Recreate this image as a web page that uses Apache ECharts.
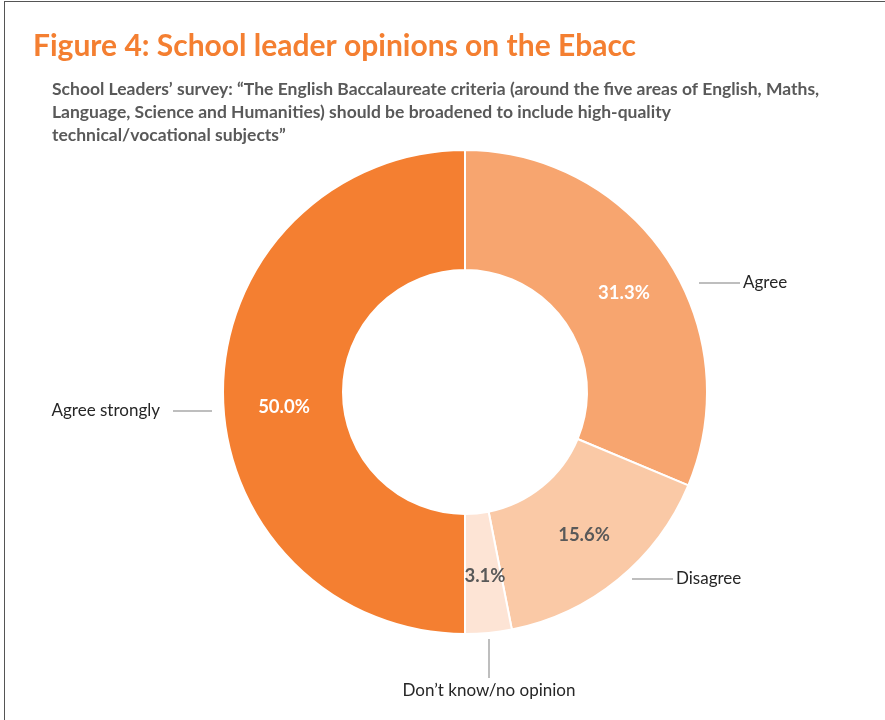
<!DOCTYPE html>
<html><head><meta charset="utf-8">
<script src="https://cdn.jsdelivr.net/npm/echarts@6/dist/echarts.min.js"></script>
<style>
html,body{margin:0;padding:0;background:#fff;}
#wrap{position:relative;width:885px;height:720px;}
#c{width:885px;height:720px;}
#frame{position:absolute;left:4px;top:1px;right:0;bottom:0;border-left:1.5px solid #555;border-top:1.5px solid #555;pointer-events:none;}
</style></head>
<body><div id="wrap"><div id="c"></div><div id="frame"></div></div>
<script>
const titleText = 'Figure 4: School leader opinions on the Ebacc';
const subtitleText = 'School Leaders\u2019 survey: \u201CThe English Baccalaureate criteria (around the five areas of English, Maths,\nLanguage, Science and Humanities) should be broadened to include high-quality\ntechnical/vocational subjects\u201D';
const categories = ['Agree', 'Disagree', 'Don\u2019t know/no opinion', 'Agree strongly'];
const values = [31.3, 15.6, 3.1, 50.0];
const colors = ['#F7A56F', '#FAC9A6', '#FDE4D5', '#F47F31'];
const pctColors = ['#ffffff', '#595959', '#595959', '#ffffff'];

const cx = 465, cy = 392, rIn = 122, rOut = 242;
const FONT = 'Lato, "Open Sans", sans-serif';

// name label placement (relative to pie centre)
const nameLayout = {
  'Agree': {x: cx + 234, y: 283, align: 'left', verticalAlign: 'middle'},
  'Agree strongly': {x: cx - 253, y: 411, align: 'right', verticalAlign: 'middle'},
  'Disagree': {x: cx + 167, y: 579, align: 'left', verticalAlign: 'middle'},
  'Don\u2019t know/no opinion': {x: cx + 24, y: 639, align: 'center', verticalAlign: 'top'}
};

const chart = echarts.init(document.getElementById('c'), null, {renderer: 'canvas'});

const pieData = categories.map((n, i) => ({
  name: n, value: values[i],
  itemStyle: {color: colors[i]},
  label: {color: pctColors[i], offset: n === 'Agree strongly' ? [4, 15] : (n === 'Agree' ? [5, 4] : [2, 0])}
}));
const nameData = categories.map((n, i) => ({name: n, value: values[i]}));

const lineStyle = {backgroundColor: '#7f7f7f', height: 1, width: 41, verticalAlign: 'middle'};
const txt = {fontFamily: FONT, fontSize: 17, color: '#262626', verticalAlign: 'middle'};

chart.setOption({
  backgroundColor: '#fff',
  animation: false,
  title: [
    {text: titleText, left: 28, top: 26, textStyle: {fontFamily: FONT, fontSize: 30, fontWeight: 'bold', color: '#F47F31'}},
    {text: subtitleText, left: 47, top: 73, textStyle: {fontFamily: FONT, fontSize: 17.5, fontWeight: 'bold', color: '#595959', lineHeight: 23}}
  ],
  series: [
    {
      type: 'pie', center: [cx, cy], radius: [rIn, rOut], startAngle: 90, clockwise: true,
      data: pieData,
      itemStyle: {borderColor: '#fff', borderWidth: 2},
      label: {show: true, position: 'inside', formatter: p => p.value.toFixed(1) + '%',
        fontFamily: FONT, fontSize: 18.5, fontWeight: 'bold'},
      labelLine: {show: false}, emphasis: {disabled: true}, silent: true
    },
    {
      type: 'pie', center: [cx, cy], radius: [rIn, rOut], startAngle: 90, clockwise: true,
      data: nameData, silent: true, emphasis: {disabled: true},
      itemStyle: {color: 'rgba(0,0,0,0)', borderWidth: 0},
      labelLine: {show: false},
      label: {
        show: true, position: 'outside',
        formatter: p => {
          if (p.name === 'Agree' || p.name === 'Disagree') return '{ln|}{tl|' + p.name + '}';
          if (p.name === 'Agree strongly') return '{tr|' + p.name + '}{ln2|}';
          return '{vl|}\n{tc|' + p.name + '}';
        },
        rich: {
          ln: Object.assign({}, lineStyle, {width: 41}),
          ln2: Object.assign({}, lineStyle, {width: 39}),
          vl: {backgroundColor: '#7f7f7f', width: 1, height: 39, align: 'center'},
          tl: Object.assign({}, txt, {padding: [0, 0, 0, 3]}),
          tr: Object.assign({}, txt, {padding: [0, 13, 0, 0]}),
          tc: Object.assign({}, txt, {align: 'center', padding: [4, 0, 0, 0]})
        }
      },
      labelLayout: p => {
        const l = nameLayout[p.dataIndex !== undefined ? categories[p.dataIndex] : ''];
        return l ? {x: l.x, y: l.y, align: l.align, verticalAlign: l.verticalAlign} : {};
      }
    }
  ]
});
</script></body></html>
